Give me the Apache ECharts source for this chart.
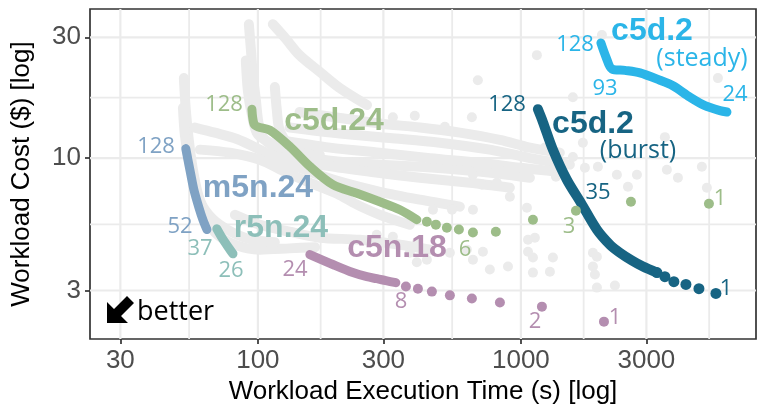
<!DOCTYPE html>
<html><head><meta charset="utf-8">
<script src="https://cdn.jsdelivr.net/npm/echarts@6/dist/echarts.min.js"></script>
<style>html,body{margin:0;padding:0;background:#fff}#c{width:763px;height:412px}</style>
</head><body><div id="c"></div>
<script>
// ---- axis ticks / ranges ----
const xTicks = [30, 100, 300, 1000, 3000];
const yTicks = [3, 10, 30];
const xRange = [23, 7830];
const yRange = [1.93, 38.8];

// ---- highlighted series: [execution time (s), cost ($)] ----
const m5n24 = [[53.2,10.9],[54.2,9.85],[55.6,8.6],[57.1,7.5],[59.7,6.37],[61.8,5.71],[64.0,5.22]];
const r5n24 = [[69.8,5.26],[73.0,4.85],[76.9,4.47],[80.4,4.19]];
const c5d24Line = [[94.9,15.6],[96.6,13.66],[100,13.29],[111,12.9],[132.4,11.1],[157.6,9.27],[192.8,7.85],[237.9,7.26],[291,6.72],[346.7,6.25],[402.3,5.71]];
const c5d24Dots = [[439,5.61],[475,5.46],[523,5.31],[581,5.22],[657,5.08],[803,5.12],[1111,5.71],[1619,6.20],[2620,6.72],[5186,6.60]];
const c5n18Line = [[157.6,4.16],[192.8,3.80],[229.7,3.53],[259.7,3.40],[283.5,3.34],[306.7,3.28],[334.6,3.22]];
const c5n18Dots = [[365.4,3.11],[405.9,3.05],[458.7,2.97],[537,2.87],[651,2.79],[832,2.69],[1202,2.59],[2069,2.26]];
const c5d2BurstLine = [[1160,15.6],[1212,13.9],[1323,10.8],[1496,8.2],[1691,6.66],[1945,5.22],[2180,4.55],[2379,4.23],[2643,3.94],[2911,3.73],[3290,3.53]];
const c5d2BurstDots = [[3290,3.53],[3527,3.40],[3816,3.25],[4240,3.17],[4751,3.05],[5512,2.92]];
const c5d2Steady = [[2014,28.5],[2105,25.1],[2218,22.5],[2486,22.2],[2835,21.7],[3377,20.3],[3784,19.3],[4391,17.4],[5007,16.1],[5710,15.4],[6072,15.2]];

// ---- other (grey) configurations ----
const otherA = [[52.3,20.7],[53.2,15.5],[54.6,11.8],[56.6,9.0],[59.2,7.2],[62.9,6.0],[68.6,5.1],[81.8,4.55],[101.8,4.35],[132,4.4],[165,4.45]];
const otherB = [[51.9,15.8],[52.8,12.3],[55.1,9.4],[58.1,7.5],[62.9,6.25],[71.7,5.45],[89.3,4.85],[116,4.65]];
const otherC = [[57.6,13.2],[68.6,12.6],[83.2,11.9],[101.8,10.8],[121,9.85],[158,8.83],[205,8.07],[291,7.36],[413,6.85],[586,6.43]];
const otherD = [[60.2,10.8],[78.3,10.5],[101.8,9.85],[129,8.75],[158,7.99],[200,7.23],[238,6.55],[291,5.97],[378,5.45]];
const otherE = [[92.4,33.8],[94.1,26.7],[95.7,21.3],[98.3,16.9],[100.9,13.5],[106.3,11.8],[121,10.8],[144,10.2],[205,9.67],[291,9.42],[413,9.24],[586,9.0],[832,8.67],[1082,8.36]];
const otherF = [[90.0,24.3],[91.6,18.5],[94.9,14.8],[100,12.4],[116,11.3]];
const otherG = [[116,19.1],[118,15.5],[121,12.9],[132,11.3],[172,10.3]];
const otherH = [[114,33.8],[127,29.8],[144,25.5],[172,21.9],[205,18.9],[260,16.2]];
const otherI = [[144,15.2],[205,14.4],[291,13.7],[413,13.2],[586,12.6],[832,11.8],[1082,11.0],[1406,10.5]];
const otherJ = [[132,13.2],[205,12.5],[317,12.0],[492,11.5],[762,10.8],[1082,10.0],[1535,9.42]];
const otherK = [[121,11.8],[188,11.0],[291,10.5],[451,10.0],[698,9.58],[991,9.16],[1406,8.83]];
const otherL = [[111,10.3],[172,9.42],[267,8.83],[413,8.36],[640,7.99],[908,7.64]];
const otherM = [[81.8,5.97],[101.8,5.45],[132,5.12],[172,4.85],[244,4.76],[347,4.55],[451,4.35]];
const otherDots = [[686,20.3],[1150,25.5],[2032,30.6],[1576,17.4],[5610,20.7],[3527,12.1],[326,14.5],[395,14.7],[514,13.3],[651,14.5],
  [1720,11.5],[1359,8.44],[1576,10.1],[1751,9.16],[1962,9.24],[2317,8.6],[2761,8.6],[3589,9.0],[3953,8.36],[4875,9.24],[5093,7.64],[2552,7.7],
  [1054,6.37],[1064,4.76],[1130,4.85],[1064,4.27],[1111,4.05],[1323,4.05],[1289,3.56],[1111,3.53],[1878,4.23],[1945,4.08],[1878,3.73],[1911,3.47],[1945,3.08],[2277,3.14],
  [657,8.6],[749,8.83],[832,9.0],[908,7.04],[711,7.85],[810,7.99],[657,6.25],[547,6.25],[463,6.25],[623,4.35],[717,4.27],[657,3.97],[762,3.63],[893,3.73],[537,4.23],[439,3.97],[402,3.88],[378,4.23],[326,4.89],[283,4.98],[402,4.63],[1054,11.0],[1234,11.0]];
const otherCurves = [otherA, otherB, otherC, otherD, otherE, otherF, otherG, otherH, otherI, otherJ, otherK, otherL, otherM];

// ---- colours ----
const COL = { steady:'#2bb5e8', burst:'#176483', c5d24:'#9dbd89', m5n:'#7fa2c4', r5n:'#8dbfb9', c5n:'#b48eb0', grey:'#ebebeb' };

const L = Math.log10;
const toLog = arr => arr.map(p => [L(p[0]), L(p[1])]);

const chart = echarts.init(document.getElementById('c'), null, {renderer:'canvas'});

// gridlines (major at ticks, minor at log-midpoints)
function minors(ticks){
  const out=[];
  const ext=[ticks[0]/ (ticks[1]/ticks[0]) , ...ticks, ticks[ticks.length-1]*(ticks[ticks.length-1]/ticks[ticks.length-2])];
  for(let i=0;i<ext.length-1;i++) out.push(Math.sqrt(ext[i]*ext[i+1]));
  return out;
}
const gridData = [];
xTicks.forEach(v=>gridData.push([L(v),0,1]));
yTicks.forEach(v=>gridData.push([L(v),1,1]));
minors(xTicks).forEach(v=>gridData.push([L(v),0,0]));
minors(yTicks).forEach(v=>gridData.push([L(v),1,0]));

const series = [];
series.push({
  type:'custom', z:1, silent:true, clip:true,
  data: gridData,
  renderItem(params, api){
    const cs = params.coordSys;
    const v = api.value(0), isY = api.value(1), major = api.value(2);
    let shape;
    if(!isY){
      const x = api.coord([v, L(yRange[0])])[0];
      if(x < cs.x || x > cs.x+cs.width) return;
      shape = {x1:x, y1:cs.y, x2:x, y2:cs.y+cs.height};
    } else {
      const y = api.coord([L(xRange[0]), v])[1];
      if(y < cs.y || y > cs.y+cs.height) return;
      shape = {x1:cs.x, y1:y, x2:cs.x+cs.width, y2:y};
    }
    return {type:'line', shape, style:{stroke:'#ebebeb', lineWidth: major?2.2:1.8}};
  }
});
otherCurves.forEach(c=>series.push({
  type:'line', z:2, silent:true, showSymbol:false, smooth:0.3, data: toLog(c),
  lineStyle:{color:COL.grey, width:10, cap:'round', join:'round'}
}));
series.push({type:'scatter', z:2, silent:true, symbolSize:10, data: toLog(otherDots), itemStyle:{color:COL.grey, opacity:1}});

function hl(data, color, w){
  return {type:'line', z:3, silent:true, showSymbol:false, smooth:0.3, data: toLog(data),
    lineStyle:{color, width:w, cap:'round', join:'round'}};
}
function dots(data, color, s){
  return {type:'scatter', z:4, silent:true, symbolSize:s, data: toLog(data), itemStyle:{color, opacity:1}};
}
series.push(hl(m5n24, COL.m5n, 9));
series.push(hl(r5n24, COL.r5n, 9));
series.push(hl(c5d24Line, COL.c5d24, 9));
series.push(dots(c5d24Dots, COL.c5d24, 10));
series.push(hl(c5n18Line, COL.c5n, 9));
series.push(dots(c5n18Dots, COL.c5n, 10));
series.push(hl(c5d2BurstLine, COL.burst, 10));
series.push(dots(c5d2BurstDots, COL.burst, 11));
series.push(hl(c5d2Steady, COL.steady, 9));

const AX_FONT = 'Liberation Sans';
function axisCfg(ticks, range, name, gap, isY){
  const lv = ticks.map(L);
  return {
    type:'value', min:L(range[0]), max:L(range[1]),
    axisLine:{show:false}, splitLine:{show:false},
    axisTick:{show:true, customValues:lv, length:5, lineStyle:{color:'#333', width:1.7}},
    axisLabel:{customValues:lv, margin:9, color:'#4d4d4d', fontFamily:AX_FONT, fontSize:26,
      formatter:v=>{ const t=ticks.find(t=>Math.abs(L(t)-v)<1e-6); return t===undefined?'':String(t);} },
    name, nameLocation:'middle', nameGap:gap, nameRotate:isY?90:0,
    nameTextStyle:{fontFamily:AX_FONT, fontSize:26, color:'#000'}
  };
}

// text annotations
const SMALL = 'Open Sans';
const notes = [
  ['c5d.2',652,31,COL.steady,'b'],['(steady)',702,59,COL.steady,'p'],['128',575,45,COL.steady,'n'],['93',605,89,COL.steady,'n'],['24',735,95,COL.steady,'n'],
  ['c5d.2',593,124,COL.burst,'b'],['(burst)',638,151,COL.burst,'p'],['128',507,105,COL.burst,'n'],['35',598,193,COL.burst,'n'],['1',726,289,COL.burst,'n'],
  ['c5d.24',334,121,COL.c5d24,'b'],['128',224,105,COL.c5d24,'n'],['6',465,250,COL.c5d24,'n'],['3',569,227,COL.c5d24,'n'],['1',720,199,COL.c5d24,'n'],
  ['m5n.24',258,188,COL.m5n,'b'],['128',156,147,COL.m5n,'n'],['52',180,227,COL.m5n,'n'],
  ['r5n.24',281,228,COL.r5n,'b'],['37',200,249,COL.r5n,'n'],['26',231,271,COL.r5n,'n'],
  ['c5n.18',397,248,COL.c5n,'b'],['24',295,270,COL.c5n,'n'],['8',401,302,COL.c5n,'n'],['2',535,322,COL.c5n,'n'],['1',615,318,COL.c5n,'n']
];
const graphic = notes.map(n=>({
  type:'text', z:100, x:n[1], y:n[2], silent:true,
  style:{text:n[0], fill:n[3], align:'center', verticalAlign:'middle',
    fontFamily: n[4]==='b' ? 'Liberation Sans' : SMALL,
    fontWeight: n[4]==='b' ? 'bold' : 'normal',
    fontSize: n[4]==='b' ? 32 : (n[4]==='p' ? 25 : 22)}
}));
graphic.push({type:'polygon', z:100, silent:true, shape:{points:[[107,323],[107,302],[114,309],[127,296],[134,303],[121,316],[128,323]]}, style:{fill:'#000'}});
graphic.push({type:'text', z:100, x:137, y:312, silent:true, style:{text:'better', fill:'#000', align:'left', verticalAlign:'middle', fontFamily:SMALL, fontSize:27}});

chart.setOption({
  animation:false,
  backgroundColor:'#fff',
  grid:{left:90, right:7, top:9, bottom:73, show:true, borderColor:'#333', borderWidth:1.7, backgroundColor:'transparent'},
  xAxis: axisCfg(xTicks, xRange, 'Workload Execution Time (s) [log]', 36, false),
  yAxis: axisCfg(yTicks, yRange, 'Workload Cost ($) [log]', 55, true),
  series,
  graphic
});
</script></body></html>
